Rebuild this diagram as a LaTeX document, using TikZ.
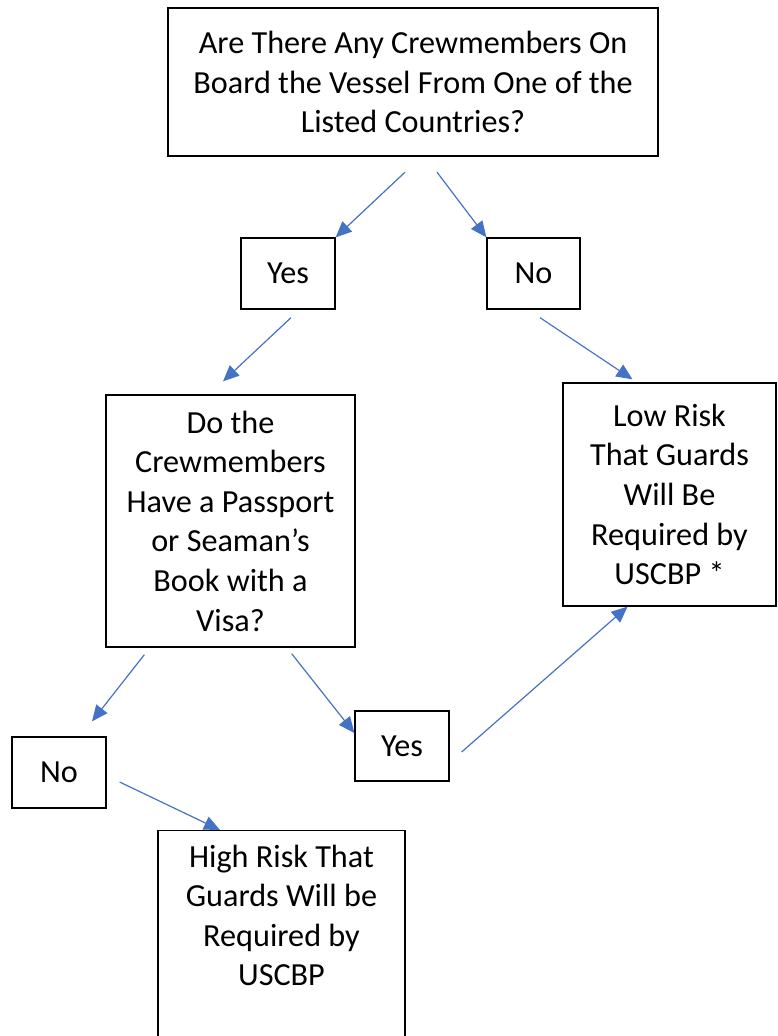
\documentclass[tikz,border=0pt]{standalone}
\usepackage{fontspec}
\setmainfont{Carlito}
\usetikzlibrary{arrows.meta,positioning,calc}
\definecolor{arrowblue}{HTML}{4472C4}

\begin{document}
\begin{tikzpicture}[x=1pt,y=-1pt,
  box/.style={draw=black, line width=1.3pt, align=center, inner sep=0pt,
    font=\fontsize{32.2}{39.6}\selectfont},
  link/.style={draw=arrowblue, line width=1.2pt,
    -{Triangle[length=16pt,width=14pt]}}]
  \path[use as bounding box, clip] (0,0) rectangle (777,1036);

  \node (top) [box, line width=2.4pt, minimum width=490pt, minimum height=148pt] at (413,82)
    {Are There Any Crewmembers On\\Board the Vessel From One of the\\Listed Countries?};
  \node (yes1) [box, minimum width=94pt, minimum height=71pt] at (288,273.5) {Yes};
  \node (no1) [box, minimum width=93pt, minimum height=71pt] at (533.5,273.5) {No};
  \node (dothe) [box, minimum width=249pt, minimum height=252pt] at (230.5,521)
    {Do the\\Crewmembers\\Have a Passport\\or Seaman's\\Book with a\\Visa?};
  \node (low) [box, minimum width=213pt, minimum height=223pt] at (669.5,494.5)
    {Low Risk\\That Guards\\Will Be\\Required by\\USCBP *};
  \node (no2) [box, minimum width=94pt, minimum height=71pt] at (59,772.5) {No};
  \node (yes2) [box, minimum width=94pt, minimum height=70pt] at (402,746) {Yes};
  \node (high) [box, minimum width=247pt, anchor=north, inner ysep=14pt, text depth=120pt] at (281.5,830)
    {High Risk That\\Guards Will be\\Required by\\USCBP};

  \draw[link] ($(top.south)+(-8,15)$) -- (yes1.north east);
  \draw[link] ($(top.south)+(24,15)$) -- (no1.north west);
  \draw[link] ($(yes1.south)+(3,8)$) -- ($(dothe.north)+(-7.5,-13)$);
  \draw[link] ($(no1.south)+(6.5,8)$) -- ($(low.north)+(-37,-3)$);
  \draw[link] ($(dothe.south west)+(39,7)$) -- ($(no2.north)+(33,-15)$);
  \draw[link] ($(dothe.south east)+(-64,6)$) -- ($(yes2.west)+(0,-13)$);
  \draw[link] ($(no2.east)+(13,9.5)$) -- ($(high.north)+(-61.5,0)$);
  \draw[link] ($(yes2.east)+(12,6)$) -- ($(low.south)+(-42,0)$);
\end{tikzpicture}
\end{document}
